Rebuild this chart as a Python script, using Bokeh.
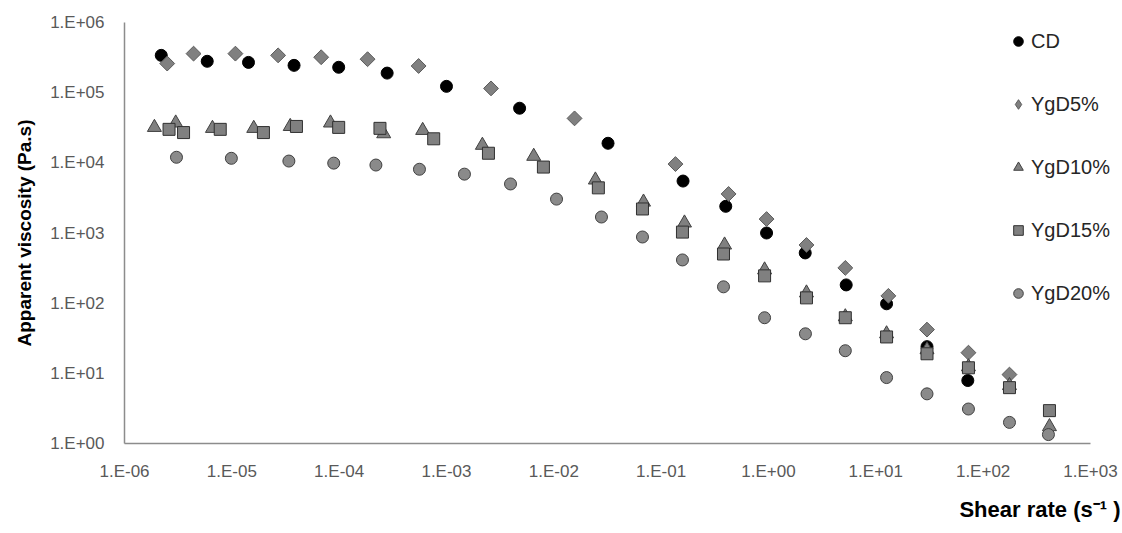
import math
from bokeh.plotting import figure
from bokeh.models import Range1d, FixedTicker, CustomJSTickFormatter, Legend, LegendItem, Title
from bokeh.embed import file_html
from bokeh.resources import INLINE

# ---- data ----
cd_x = [2.2e-6, 5.9e-6, 1.43e-5, 3.8e-5, 9.9e-5, 2.8e-4, 1.0e-3, 4.8e-3, 3.2e-2, 0.16, 0.40, 0.96, 2.2, 5.3, 12.6, 30, 72]
cd_y = [3.4e5, 2.8e5, 2.7e5, 2.45e5, 2.3e5, 1.9e5, 1.23e5, 6.0e4, 1.9e4, 5.5e3, 2.4e3, 1.0e3, 520, 182, 98, 24, 7.9]

y5_x = [2.5e-6, 4.4e-6, 1.08e-5, 2.7e-5, 6.8e-5, 1.84e-4, 5.5e-4, 2.6e-3, 1.56e-2, 0.136, 0.425, 0.96, 2.26, 5.2, 13.1, 30, 73, 176]
y5_y = [2.6e5, 3.6e5, 3.6e5, 3.4e5, 3.2e5, 3.0e5, 2.4e5, 1.15e5, 4.3e4, 9.6e3, 3.6e3, 1.58e3, 675, 318, 127, 42, 19.7, 9.6]

y10_x = [1.9e-6, 3.0e-6, 6.6e-6, 1.6e-5, 3.5e-5, 8.3e-5, 2.6e-4, 6.0e-4, 2.16e-3, 6.5e-3, 2.44e-2, 6.85e-2, 0.165, 0.39, 0.92, 2.26, 5.2, 12.6, 30, 73, 176, 415]
y10_y = [3.2e4, 3.7e4, 3.1e4, 3.1e4, 3.3e4, 3.7e4, 2.6e4, 2.9e4, 1.78e4, 1.24e4, 5.7e3, 2.76e3, 1.39e3, 675, 298, 140, 64, 36.6, 21.7, 12.4, 6.7, 1.74]

y15_x = [2.6e-6, 3.55e-6, 7.8e-6, 1.97e-5, 4.0e-5, 9.9e-5, 2.4e-4, 7.6e-4, 2.46e-3, 8.0e-3, 2.6e-2, 6.7e-2, 0.158, 0.381, 0.92, 2.26, 5.2, 12.6, 30, 73, 176, 415]
y15_y = [3.0e4, 2.7e4, 3.0e4, 2.7e4, 3.3e4, 3.2e4, 3.1e4, 2.2e4, 1.37e4, 8.7e3, 4.4e3, 2.2e3, 1.03e3, 502, 245, 119, 62, 33, 19, 12, 6.25, 2.94]

y20_x = [3.05e-6, 9.9e-6, 3.4e-5, 8.9e-5, 2.2e-4, 5.6e-4, 1.47e-3, 3.95e-3, 1.06e-2, 2.78e-2, 6.7e-2, 0.158, 0.381, 0.92, 2.21, 5.2, 12.6, 30, 73, 176, 406]
y20_y = [1.2e4, 1.16e4, 1.06e4, 9.9e3, 9.3e3, 8.1e3, 6.9e3, 5.0e3, 3.04e3, 1.69e3, 877, 413, 171, 62, 36.6, 21, 8.7, 5.1, 3.1, 2.0, 1.34]

series_names = ["CD", "YgD5%", "YgD10%", "YgD15%", "YgD20%"]
x_ticks = [1e-6, 1e-5, 1e-4, 1e-3, 1e-2, 1e-1, 1e0, 1e1, 1e2, 1e3]
y_ticks = [1e0, 1e1, 1e2, 1e3, 1e4, 1e5, 1e6]

FONT = "Liberation Sans"

# frame spans a little beyond 1E+03 so the legend is not clipped; the axis line stops at 1E+03
p = figure(width=1122, height=533, x_axis_type="log", y_axis_type="log",
           x_range=Range1d(1e-6, 10 ** 3.28), y_range=Range1d(1, 1e6),
           output_backend="svg", toolbar_location=None,
           min_border_left=124, min_border_right=2, min_border_top=22, min_border_bottom=40)
p.outline_line_color = None
p.xgrid.visible = False
p.ygrid.visible = False
p.background_fill_color = "white"
p.border_fill_color = "white"

fmt = CustomJSTickFormatter(code="""
const e = Math.round(Math.log10(tick));
const s = (e < 0 ? '-' : '+') + String(Math.abs(e)).padStart(2, '0');
return '1.E' + s;
""")

for ax, ticks in ((p.xaxis[0], x_ticks), (p.yaxis[0], y_ticks)):
    ax.ticker = FixedTicker(ticks=ticks, minor_ticks=[])
    ax.formatter = fmt
    ax.major_tick_line_color = None
    ax.minor_tick_line_color = None
    ax.axis_line_color = "#8c8c8c"
    ax.axis_line_width = 1.5
    ax.major_label_text_font = FONT
    ax.major_label_text_font_size = "17px"
    ax.major_label_text_color = "#595959"

p.xaxis.bounds = (x_ticks[0], x_ticks[-1])
p.xaxis.major_label_standoff = 12
p.yaxis.major_label_standoff = 14

p.yaxis.axis_label = "Apparent viscosity (Pa.s)"
p.yaxis.axis_label_text_font = FONT
p.yaxis.axis_label_text_font_style = "bold"
p.yaxis.axis_label_text_font_size = "19px"
p.yaxis.axis_label_text_color = "#000000"
p.yaxis.axis_label_standoff = 12

DIAMOND = dict(fill_color="#808080", line_color="#5a5a5a", line_width=1)

r_cd = p.scatter(cd_x, cd_y, marker="circle", size=12, fill_color="#000000", line_color="#000000")
# diamond swatch for the legend (legend swatches ignore glyph angle); it lies fully
# underneath the rotated-square diamonds drawn right after it
r5_key = p.scatter(y5_x, y5_y, marker="diamond", size=12, **DIAMOND)
r5 = p.scatter(y5_x, y5_y, marker="square", angle=math.pi / 4, size=10.5, **DIAMOND)
r10 = p.scatter(y10_x, y10_y, marker="triangle", size=14,
                fill_color="#808080", line_color="#404040", line_width=1)
r15 = p.scatter(y15_x, y15_y, marker="square", size=12,
                fill_color="#808080", line_color="#303030", line_width=1)
r20 = p.scatter(y20_x, y20_y, marker="circle", size=12,
                fill_color="#8a8a8a", line_color="#404040", line_width=1)

legend = Legend(items=[LegendItem(label=n, renderers=[r]) for n, r in
                       zip(series_names, [r_cd, r5_key, r10, r15, r20])],
                location=(882, 138), padding=0, margin=0,
                border_line_color=None, background_fill_alpha=0,
                glyph_width=24, glyph_height=24, label_height=24,
                spacing=39, label_standoff=1,
                label_text_font=FONT, label_text_font_size="20px",
                label_text_color="#262626")
p.add_layout(legend)

xt = Title(text="Shear rate (s\u207b\u00b9 )", align="right", vertical_align="bottom",
           standoff=23, text_font=FONT, text_font_style="bold", text_font_size="22px",
           text_color="#000000")
p.add_layout(xt, "below")

open("out.html", "w").write(file_html(p, INLINE))
